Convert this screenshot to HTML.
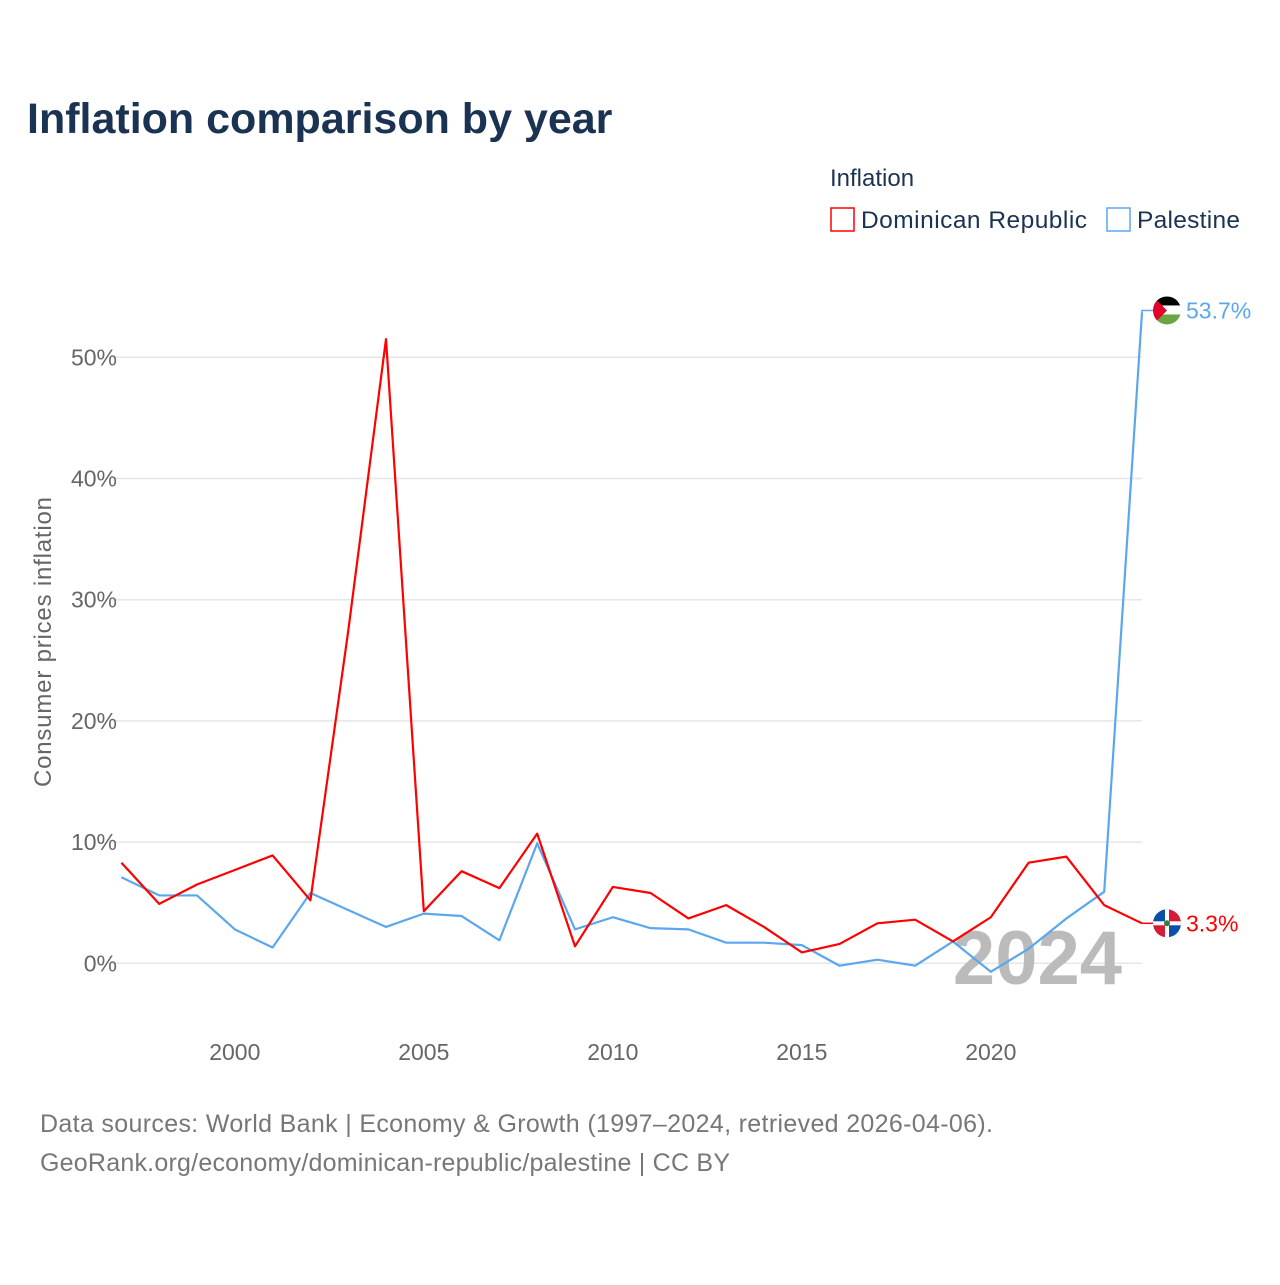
<!DOCTYPE html>
<html><head><meta charset="utf-8"><style>
body{margin:0;background:#fff;font-family:"Liberation Sans",sans-serif}
</style></head><body>
<svg width="1280" height="1280" xmlns="http://www.w3.org/2000/svg">
<text x="27" y="133" font-size="43" font-weight="bold" fill="#1b3353">Inflation comparison by year</text>
<text x="830" y="186" font-size="24" fill="#1b3353">Inflation</text>
<g><rect x="831" y="208" width="23" height="23" fill="none" stroke="#ff0000" stroke-width="1.5"/><text x="861" y="228" font-size="24.5" fill="#1b3353" textLength="226">Dominican Republic</text></g>
<g><rect x="1107" y="208" width="23" height="23" fill="none" stroke="#5ba7ee" stroke-width="1.5"/><text x="1137" y="228" font-size="24.5" fill="#1b3353" textLength="103">Palestine</text></g>
<g id="grid"></g><g id="yt"></g><g id="xt"></g>
<text x="1122" y="984" font-size="76" font-weight="bold" fill="#bbbbbb" text-anchor="end">2024</text>
<g id="lines"></g>
<text transform="translate(51,642) rotate(-90)" font-size="24" fill="#666" text-anchor="middle" textLength="290">Consumer prices inflation</text>
<text x="40" y="1132" font-size="25" fill="#777" textLength="953">Data sources: World Bank | Economy &amp; Growth (1997–2024, retrieved 2026-04-06).</text>
<text x="40" y="1171" font-size="25" fill="#777" textLength="690">GeoRank.org/economy/dominican-republic/palestine | CC BY</text>
</svg>
<script>
const years=[1997,1998,1999,2000,2001,2002,2003,2004,2005,2006,2007,2008,2009,2010,2011,2012,2013,2014,2015,2016,2017,2018,2019,2020,2021,2022,2023,2024];
const domRep=[8.3,4.9,6.5,7.7,8.9,5.2,27.4,51.5,4.3,7.6,6.2,10.7,1.4,6.3,5.8,3.7,4.8,3.0,0.9,1.6,3.3,3.6,1.8,3.8,8.3,8.8,4.8,3.3];
const palestine=[7.1,5.6,5.6,2.8,1.3,5.8,4.4,3.0,4.1,3.9,1.9,9.9,2.8,3.8,2.9,2.8,1.7,1.7,1.5,-0.2,0.3,-0.2,1.8,-0.7,1.2,3.7,5.9,53.7];
const yTicks=[0,10,20,30,40,50];
const xTicks=[2000,2005,2010,2015,2020];
const NS="http://www.w3.org/2000/svg";
const X=y=>121.4+(y-1997)*37.8;
const Y=v=>963.3-v*12.12;
function mk(t,a,p){const e=document.createElementNS(NS,t);for(const k in a)e.setAttribute(k,a[k]);document.getElementById(p).appendChild(e);return e;}
yTicks.forEach(v=>{
 const l=mk('line',{x1:112,x2:1142,y1:Y(v),y2:Y(v),stroke:'#e6e6e6','stroke-width':1.5},'grid');
 
 
 const t=mk('text',{x:117,y:Y(v)+8,'font-size':23,fill:'#666','text-anchor':'end'},'yt');t.textContent=v+'%';
 
 
});
xTicks.forEach(v=>{
 const t=mk('text',{x:X(v),y:1060,'font-size':23,fill:'#666','text-anchor':'middle'},'xt');t.textContent=v;
 
 
});
function series(vals,color,name){
 const p=mk('polyline',{points:vals.map((v,i)=>X(years[i])+','+Y(v)).join(' '),fill:'none',stroke:color,'stroke-width':2.2,'stroke-linejoin':'round'},'lines');
 
 
}
series(palestine,'#5ba7ee','line-palestine');
series(domRep,'#ff0000','line-dominican-republic');
const lp=palestine[palestine.length-1],ld=domRep[domRep.length-1];
const g=document.getElementById('lines');
g.insertAdjacentHTML('beforeend',`
<g>
<polyline points="${X(2024)},${Y(lp)} ${X(2024)},${Y(lp)-2} 1153,${Y(lp)-2}" fill="none" stroke="#5ba7ee" stroke-width="1.5"/>
<clipPath id="cp"><circle cx="1167" cy="${Y(lp)-2}" r="14"/></clipPath>
<g clip-path="url(#cp)"><rect x="1153" y="${Y(lp)-16}" width="28" height="10" fill="#000"/><rect x="1153" y="${Y(lp)-7}" width="28" height="10" fill="#fff"/><rect x="1153" y="${Y(lp)+2}" width="28" height="10" fill="#6aa444"/><polygon points="1153,${Y(lp)-16} 1167,${Y(lp)-2} 1153,${Y(lp)+12}" fill="#e4002b"/></g>
<text x="1186" y="${Y(lp)+6}" font-size="23" fill="#5ba7ee">${lp}%</text></g>
<g>
<line x1="${X(2024)}" y1="${Y(ld)}" x2="1153" y2="${Y(ld)}" stroke="#ff0000" stroke-width="1.5"/>
<clipPath id="cd"><circle cx="1167" cy="${Y(ld)}" r="14"/></clipPath>
<g clip-path="url(#cd)"><rect x="1153" y="${Y(ld)-14}" width="14" height="14" fill="#0b4fa8"/><rect x="1167" y="${Y(ld)-14}" width="14" height="14" fill="#d51b36"/><rect x="1153" y="${Y(ld)}" width="14" height="14" fill="#d51b36"/><rect x="1167" y="${Y(ld)}" width="14" height="14" fill="#0b4fa8"/><rect x="1153" y="${Y(ld)-2}" width="28" height="4" fill="#fff"/><rect x="1165" y="${Y(ld)-14}" width="4" height="28" fill="#fff"/><circle cx="1167" cy="${Y(ld)}" r="3" fill="#3a7a3a"/></g>
<text x="1186" y="${Y(ld)+8}" font-size="23" fill="#ff0000">${ld}%</text></g>`);
</script>
</body></html>
